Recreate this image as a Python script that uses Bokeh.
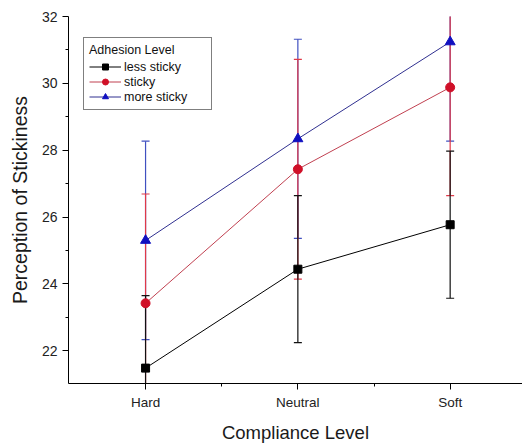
from bokeh.plotting import figure
from bokeh.models import FixedTicker, Legend, LegendItem, Range1d
from bokeh.embed import file_html
from bokeh.resources import INLINE

# ---- data ----
categories = ["Hard", "Neutral", "Soft"]
cat_x = [1, 2, 3]
series_names = ["less sticky", "sticky", "more sticky"]
less_sticky = [21.48, 24.44, 25.77]
less_sticky_sd = [2.17, 2.20, 2.20]
sticky = [23.42, 27.43, 29.88]
sticky_sd = [3.27, 3.29, 3.24]
more_sticky = [25.30, 28.34, 31.24]
more_sticky_sd = [2.97, 2.98, 2.97]
y_ticks = [22, 24, 26, 28, 30, 32]
y_minor = [21, 23, 25, 27, 29, 31]
x_minor = [1.5, 2.5]

FONT = "Liberation Sans"

p = figure(width=522, height=445, output_backend="svg", toolbar_location=None,
           x_range=Range1d(0.494, 3.475), y_range=Range1d(21.02, 32.0),
           min_border_left=68, min_border_right=0, min_border_top=16,
           min_border_bottom=57)
p.outline_line_color = None
p.xgrid.visible = False
p.ygrid.visible = False
p.background_fill_color = "white"
p.border_fill_color = "white"

series = [
    ("less sticky", less_sticky, less_sticky_sd, "#000000", "#000000", "#111111", "square", 8),
    ("sticky", sticky, sticky_sd, "#d01028", "#c04050", "#e03848", "circle", 9),
    ("more sticky", more_sticky, more_sticky_sd, "#1010c0", "#303090", "#4050c0", "triangle", 10),
]

# error bars: drawn blue, red, black (later ones on top)
for name, vals, sd, mcol, lcol, ecol, marker, msize in reversed(series):
    up = [v + s for v, s in zip(vals, sd)]
    lo = [v - s for v, s in zip(vals, sd)]
    p.segment(x0=cat_x, y0=lo, x1=cat_x, y1=up, line_color=ecol, line_width=1.2)
    p.scatter(x=cat_x, y=up, marker="dash", size=8, line_color=ecol, line_width=1.2)
    p.scatter(x=cat_x, y=lo, marker="dash", size=8, line_color=ecol, line_width=1.2)

items = []
for name, vals, sd, mcol, lcol, ecol, marker, msize in series:
    ln = p.line(x=cat_x, y=vals, line_color=lcol, line_width=1)
    mk = p.scatter(x=cat_x, y=vals, marker=marker, size=msize,
                   fill_color=mcol, line_color=mcol)
    items.append(LegendItem(label=name, renderers=[ln, mk]))

legend = Legend(items=items, location=(15, 273), title="Adhesion Level",
                title_text_font=FONT, title_text_font_size="12.5px",
                title_text_font_style="normal", title_text_color="#111111",
                label_text_font=FONT, label_text_font_size="12.5px",
                label_text_color="#111111",
                border_line_color="#000000", border_line_width=1,
                background_fill_color="white", background_fill_alpha=1,
                padding=5, spacing=0, label_height=15, glyph_height=15,
                glyph_width=32, label_standoff=3, title_standoff=2,
                label_width=82, margin=0)
p.add_layout(legend, "center")

# x axis
p.xaxis.ticker = FixedTicker(ticks=cat_x, minor_ticks=x_minor)
p.xaxis.major_label_overrides = {x: c for x, c in zip(cat_x, categories)}
p.xaxis.axis_label = "Compliance Level"
p.xaxis.axis_label_text_font = FONT
p.xaxis.axis_label_text_font_size = "18.5px"
p.xaxis.axis_label_text_font_style = "normal"
p.xaxis.axis_label_text_color = "#1a1a1a"
p.xaxis.axis_label_standoff = 9
p.xaxis.major_label_text_font = FONT
p.xaxis.major_label_text_font_size = "13.5px"
p.xaxis.major_label_text_color = "#222222"
p.xaxis.major_label_standoff = 5
p.xaxis.major_tick_out = 6
p.xaxis.major_tick_in = 0
p.xaxis.minor_tick_out = 3
p.xaxis.minor_tick_in = 0

# y axis
p.yaxis.ticker = FixedTicker(ticks=y_ticks, minor_ticks=y_minor)
p.yaxis.axis_label = "Perception of Stickiness"
p.yaxis.axis_label_text_font = FONT
p.yaxis.axis_label_text_font_size = "19.5px"
p.yaxis.axis_label_text_font_style = "normal"
p.yaxis.axis_label_text_color = "#1a1a1a"
p.yaxis.axis_label_standoff = 8
p.yaxis.major_label_text_font = FONT
p.yaxis.major_label_text_font_size = "14px"
p.yaxis.major_label_text_color = "#222222"
p.yaxis.major_label_standoff = 5
p.yaxis.major_tick_out = 6
p.yaxis.major_tick_in = 0
p.yaxis.minor_tick_out = 3
p.yaxis.minor_tick_in = 0

for ax in (p.xaxis, p.yaxis):
    ax.axis_line_color = "#000000"
    ax.major_tick_line_color = "#000000"
    ax.minor_tick_line_color = "#000000"

open("out.html", "w").write(file_html(p, INLINE))
